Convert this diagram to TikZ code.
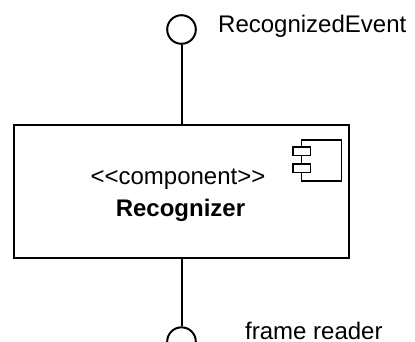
\documentclass[tikz,border=0pt]{standalone}
\usepackage{fontspec}
\setmainfont{Liberation Sans}
\begin{document}
\begin{tikzpicture}[x=1pt,y=-1pt,
  umlline/.style={line width=2pt, draw=black},
  iface/.style={circle, umlline, fill=white, minimum size=28.6pt, inner sep=0pt},
  comp/.style={rectangle, umlline, fill=white, minimum width=335pt, minimum height=133.5pt, inner sep=0pt},
  lbl/.style={inner sep=0pt, font=\fontsize{24}{29}\selectfont},
  iconpart/.style={line width=1.8pt, draw=black, fill=white}]
\useasboundingbox (0,0) rectangle (415,341);
\clip (0,0) rectangle (415,341);
\node[comp] (box) at (181.5,191.25) {};
\node[iface] (top) at (181.5,29.5) {};
\node[iface] (bot) at (181.5,341.6) {};
\draw[umlline] (top) -- (box.north);
\draw[umlline] (box.south) -- (bot);
\node[lbl, anchor=base west] (evt) at (218,32) {RecognizedEvent};
\node[lbl, anchor=base west] (frm) at (245,339.8) {frame reader};
\node[lbl, anchor=base] (st) at (178,184.5) {<\kern0pt<\kern0pt component>\kern0pt>};
\node[lbl, anchor=base, font=\fontsize{24}{29}\selectfont\bfseries] (nm) at (180.5,216.7) {Recognizer};
\draw[iconpart] (301.5,140) rectangle (341.5,181);
\draw[iconpart] (293,147) rectangle (310.5,155.5);
\draw[iconpart] (293,164) rectangle (310.5,172.5);
\end{tikzpicture}
\end{document}
